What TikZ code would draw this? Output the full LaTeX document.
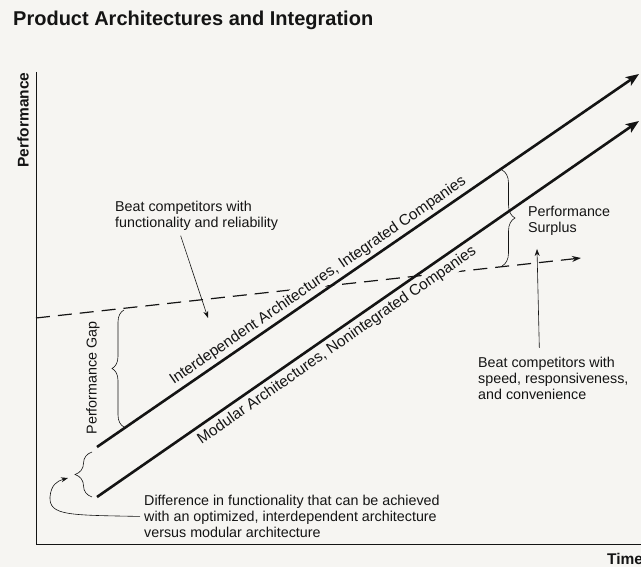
\documentclass[tikz,border=0pt]{standalone}
\usepackage{fontspec}
\setmainfont{Liberation Sans}
\usepackage{tikz}
\usepackage{xcolor}
\usetikzlibrary{arrows.meta}
\usetikzlibrary{decorations.pathreplacing,positioning}
\definecolor{paper}{RGB}{246,245,242}
\definecolor{ink}{RGB}{20,20,20}
\newcommand{\notesize}{\fontsize{14.3}{16}\selectfont}
\tikzstyle{note} = [inner sep=0pt, align=left, font=\notesize, text=ink]
\tikzstyle{linelabel} = [inner sep=1.5pt, fill=paper, font=\fontsize{15.3}{18}\selectfont, text=ink]
\tikzstyle{axislabel} = [inner sep=0pt, font=\fontsize{15.5}{18}\selectfont\bfseries, text=ink]
\tikzstyle{axis} = [line width=1pt, draw=ink]
\tikzstyle{trend} = [line width=2.6pt, draw=ink, -{Stealth[length=13pt,width=10pt,inset=3pt]}]
\tikzstyle{gapline} = [line width=1.2pt, draw=ink, dash pattern=on 14pt off 8pt, -{Stealth[length=9pt,width=6pt]}]
\tikzstyle{pointer} = [line width=0.6pt, draw=ink, -{Stealth[length=7pt,width=5pt]}]
\tikzstyle{gapbrace} = [line width=0.6pt, draw=ink, decorate]

\begin{document}
\begin{tikzpicture}[x=1pt, y=1pt]
            \fill[paper] (0,0) rectangle (641,567);
            \useasboundingbox (0,0) rectangle (641,567);

            % Draw Coordinates
            \coordinate (ytop) at (36,495);
            \coordinate (origin) at (36,22);
            \coordinate (xend) at (645,22);
            \coordinate (intstart) at (97,120);
            \coordinate (intend) at (639,493);
            \coordinate (modstart) at (97,70);
            \coordinate (modend) at (639,446);
            \coordinate (needstart) at (36,249);
            \coordinate (needend) at (581,309);
            \coordinate (gaptop) at (124,257);
            \coordinate (gapbot) at (124,140);
            \coordinate (surtop) at (502,397);
            \coordinate (surbot) at (502,301);
            \coordinate (diftop) at (92,115);
            \coordinate (difbot) at (92,70);
            \coordinate (diftip) at (68,89);
            \coordinate (needtip) at (208,249);
            \coordinate (surtip) at (537,318);

            % Draw Labels
            \node(title) [inner sep=0pt, anchor=base west, text=ink, font=\fontsize{20}{22}\selectfont\bfseries] at (13,541) {Product Architectures and Integration};
            \node(perf) [axislabel, rotate=90] at (23,447) {Performance};
            \node(time) [axislabel, anchor=base west] at (607,2) {Time};
            \node(func) [note, anchor=north west] at (115,366) {Beat competitors with\\functionality and reliability};
            \node(speed) [note, anchor=north west] at (478,210) {Beat competitors with\\speed, responsiveness,\\and convenience};
            \node(surplus) [note, anchor=north west] at (528,361) {Performance\\Surplus};
            \node(gap) [note, rotate=90] at (93,189) {Performance Gap};
            \node(diff) [note, anchor=north west] at (144,72) {Difference in functionality that can be achieved\\with an optimized, interdependent architecture\\versus modular architecture};

            % Draw Lines
            \draw[axis] (ytop) -- (origin) -- (xend);
            \draw[gapline] (needstart) -- (needend);
            \draw[trend] (intstart) -- (intend) node[linelabel, pos=0.42, above=1.5pt, sloped] {Interdependent Architectures, Integrated Companies};
            \draw[trend] (modstart) -- (modend) node[linelabel, pos=0.43, below=2.5pt, sloped] {Modular Architectures, Nonintegrated Companies};

            % Draw Braces
            \draw[gapbrace, decoration={brace, amplitude=12pt}] (gapbot) -- (gaptop);
            \draw[gapbrace, decoration={brace, amplitude=13pt}] (surtop) -- (surbot);
            \draw[gapbrace, decoration={brace, amplitude=17pt}] (difbot) -- (diftop);

            % Draw Arrows
            \draw[pointer] ([xshift=-16pt, yshift=-5pt]func.south) -- (needtip);
            \draw[pointer] ([xshift=-14pt, yshift=9pt]speed.north) -- (surtip);
            \draw[pointer] ([xshift=-4pt]diff.west) .. controls (70,52) and (49,51) .. (50,70) .. controls (51,82) and (57,86) .. (diftip);
        \end{tikzpicture}
\end{document}
